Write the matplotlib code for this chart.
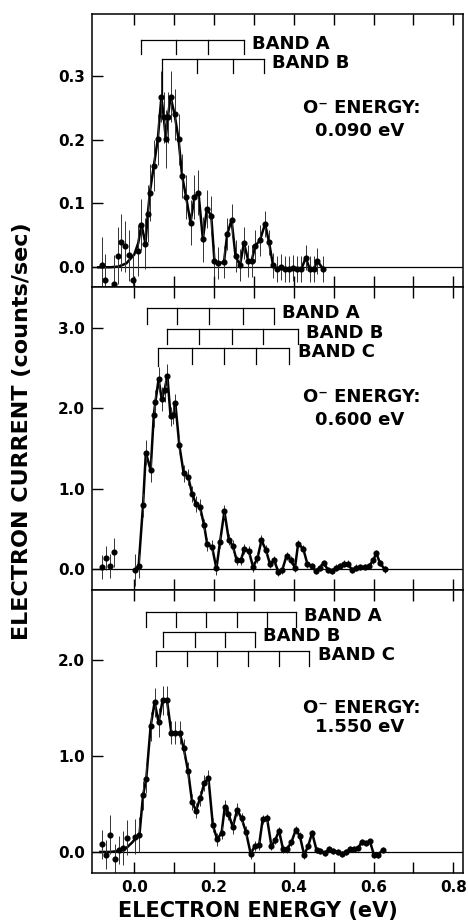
import numpy as np
import matplotlib
matplotlib.use("Agg")
import matplotlib.pyplot as plt

# ---- panel 1: O- energy 0.090 eV ----
top_x = [-0.082, -0.073, -0.052, -0.042, -0.033, -0.023, -0.013, -0.002, 0.009,
         0.018, 0.028, 0.034, 0.039, 0.049, 0.059, 0.068, 0.074, 0.079, 0.084,
         0.091, 0.101, 0.111, 0.120, 0.130, 0.141, 0.151, 0.161, 0.172, 0.182,
         0.193, 0.201, 0.211, 0.225, 0.233, 0.244, 0.254, 0.265, 0.275, 0.286,
         0.294, 0.304, 0.315, 0.328, 0.338, 0.348, 0.357, 0.368, 0.378, 0.388,
         0.399, 0.409, 0.419, 0.430, 0.440, 0.450, 0.459, 0.474]
top_y = [0.003, -0.020, -0.026, 0.018, 0.039, 0.033, 0.019, -0.020, 0.026,
         0.067, 0.037, 0.084, 0.117, 0.159, 0.201, 0.267, 0.235, 0.201, 0.235,
         0.267, 0.240, 0.201, 0.143, 0.110, 0.070, 0.110, 0.117, 0.044, 0.091,
         0.081, 0.010, 0.006, 0.008, 0.052, 0.074, 0.017, 0.003, 0.038, 0.010,
         0.010, 0.034, 0.042, 0.068, 0.039, 0.003, -0.003, 0.000, -0.003, -0.003,
         -0.001, -0.003, -0.003, 0.015, -0.003, -0.003, 0.010, -0.003]
top_err = [0.045, 0.04, 0.045, 0.045, 0.045, 0.04, 0.04, 0.04, 0.04,
           0.04, 0.04, 0.045, 0.045, 0.04, 0.04, 0.04, 0.04, 0.045, 0.04,
           0.04, 0.04, 0.04, 0.035, 0.035, 0.035, 0.035, 0.035, 0.035, 0.03,
           0.03, 0.025, 0.025, 0.025, 0.025, 0.025, 0.025, 0.025, 0.025, 0.025,
           0.025, 0.025, 0.025, 0.02, 0.02, 0.02, 0.02, 0.02, 0.02, 0.02,
           0.02, 0.02, 0.02, 0.02, 0.02, 0.02, 0.02, 0.02]
top_fit_x = [-0.09, -0.06, -0.04, -0.02, 0.0, 0.01, 0.018]
top_fit_y = [0.0, 0.0, 0.001, 0.006, 0.02, 0.038, 0.067]

# ---- panel 2: O- energy 0.600 eV ----
mid_x = [-0.081, -0.071, -0.062, -0.051, 0.001, 0.011, 0.022, 0.029, 0.041,
         0.049, 0.053, 0.061, 0.069, 0.076, 0.083, 0.091, 0.098, 0.103, 0.113,
         0.124, 0.135, 0.145, 0.155, 0.165, 0.175, 0.183, 0.195, 0.206, 0.215,
         0.226, 0.237, 0.247, 0.257, 0.267, 0.276, 0.287, 0.298, 0.309, 0.319,
         0.330, 0.340, 0.351, 0.361, 0.371, 0.382, 0.392, 0.403, 0.411, 0.424,
         0.434, 0.445, 0.455, 0.465, 0.475, 0.486, 0.496, 0.506, 0.516, 0.526,
         0.536, 0.546, 0.557, 0.567, 0.578, 0.589, 0.599, 0.607, 0.616, 0.628]
mid_y = [0.03, 0.14, 0.045, 0.21, -0.01, 0.045, 0.80, 1.45, 1.23,
         1.92, 2.08, 2.36, 2.11, 2.23, 2.40, 1.90, 1.92, 2.06, 1.54,
         1.19, 1.15, 0.94, 0.81, 0.77, 0.55, 0.31, 0.28, 0.01, 0.34,
         0.72, 0.37, 0.29, 0.11, 0.11, 0.25, 0.23, 0.03, 0.14, 0.36,
         0.24, 0.07, 0.11, -0.03, -0.01, 0.17, 0.12, 0.02, 0.32, 0.25,
         0.07, 0.04, -0.02, 0.02, 0.08, -0.01, -0.02, 0.02, 0.04, 0.07,
         0.07, -0.01, 0.02, 0.03, 0.03, 0.04, 0.11, 0.20, 0.08, 0.0]
mid_err = [0.15, 0.15, 0.15, 0.18, 0.2, 0.15, 0.15, 0.15, 0.15,
           0.15, 0.15, 0.15, 0.15, 0.15, 0.15, 0.12, 0.12, 0.12, 0.1,
           0.1, 0.1, 0.1, 0.1, 0.1, 0.08, 0.08, 0.08, 0.08, 0.08,
           0.08, 0.07, 0.07, 0.06, 0.06, 0.06, 0.06, 0.06, 0.06, 0.06,
           0.06, 0.05, 0.05, 0.05, 0.05, 0.05, 0.05, 0.05, 0.05, 0.05,
           0.05, 0.04, 0.04, 0.04, 0.04, 0.04, 0.04, 0.04, 0.04, 0.04,
           0.04, 0.04, 0.04, 0.04, 0.04, 0.04, 0.04, 0.04, 0.04, 0.04]

# ---- panel 3: O- energy 1.550 eV ----
bot_x = [-0.081, -0.070, -0.060, -0.049, -0.039, -0.028, -0.018, 0.003, 0.013,
         0.022, 0.030, 0.041, 0.051, 0.061, 0.071, 0.082, 0.093, 0.103, 0.114,
         0.124, 0.135, 0.145, 0.155, 0.165, 0.176, 0.186, 0.197, 0.208, 0.219,
         0.227, 0.236, 0.247, 0.258, 0.269, 0.280, 0.292, 0.302, 0.313, 0.322,
         0.333, 0.344, 0.353, 0.363, 0.373, 0.383, 0.394, 0.405, 0.415, 0.426,
         0.436, 0.446, 0.457, 0.467, 0.478, 0.489, 0.499, 0.510, 0.520, 0.531,
         0.541, 0.551, 0.561, 0.570, 0.581, 0.591, 0.601, 0.610, 0.624]
bot_y = [0.08, -0.03, 0.18, -0.07, 0.02, 0.04, 0.15, 0.16, 0.18,
         0.59, 0.76, 1.31, 1.56, 1.35, 1.58, 1.58, 1.24, 1.24, 1.24,
         1.08, 0.84, 0.52, 0.43, 0.56, 0.72, 0.77, 0.28, 0.13, 0.20,
         0.47, 0.40, 0.26, 0.44, 0.35, 0.21, -0.02, 0.06, 0.07, 0.34,
         0.35, 0.06, 0.12, 0.22, 0.03, 0.03, 0.10, 0.23, 0.17, -0.03,
         0.06, 0.20, 0.02, 0.01, -0.01, 0.03, 0.01, 0.00, -0.02, 0.00,
         0.03, 0.03, 0.04, 0.10, 0.09, 0.11, -0.03, -0.03, 0.02]
bot_err = [0.15, 0.15, 0.2, 0.15, 0.15, 0.18, 0.18, 0.18, 0.18,
           0.15, 0.15, 0.15, 0.15, 0.15, 0.15, 0.15, 0.12, 0.12, 0.12,
           0.1, 0.1, 0.08, 0.08, 0.08, 0.08, 0.08, 0.07, 0.07, 0.07,
           0.07, 0.07, 0.07, 0.07, 0.06, 0.06, 0.05, 0.05, 0.05, 0.05,
           0.05, 0.04, 0.04, 0.04, 0.04, 0.04, 0.04, 0.04, 0.04, 0.04,
           0.03, 0.03, 0.03, 0.03, 0.03, 0.03, 0.03, 0.03, 0.03, 0.03,
           0.03, 0.03, 0.03, 0.03, 0.03, 0.03, 0.03, 0.03, 0.03]
bot_fit_x = [-0.085, -0.06, -0.04, -0.02, -0.005, 0.003, 0.013]
bot_fit_y = [0.0, 0.0, 0.01, 0.04, 0.10, 0.14, 0.18]

energy_labels = ["0.090 eV", "0.600 eV", "1.550 eV"]

# band ladders: (name, level positions in eV, bracket height)
top_bands = [("BAND A", [0.017, 0.105, 0.185, 0.275], 0.356),
             ("BAND B", [0.069, 0.158, 0.247, 0.325], 0.326)]
mid_bands = [("BAND A", [0.031, 0.106, 0.187, 0.272, 0.350], 3.24),
             ("BAND B", [0.081, 0.163, 0.244, 0.323, 0.411], 2.99),
             ("BAND C", [0.060, 0.144, 0.225, 0.305, 0.389], 2.745)]
bot_bands = [("BAND A", [0.029, 0.105, 0.179, 0.257, 0.332, 0.405], 2.505),
             ("BAND B", [0.073, 0.152, 0.227, 0.303], 2.297),
             ("BAND C", [0.054, 0.131, 0.208, 0.286, 0.363, 0.439], 2.095)]

panels = [
    dict(x=top_x, y=top_y, e=top_err, fx=top_fit_x, fy=top_fit_y, start=9,
         ylim=(-0.031, 0.397), yt=[0.0, 0.1, 0.2, 0.3], bands=top_bands,
         energy=energy_labels[0], ey=(0.250, 0.214), tick=0.021, first_drop=[0, 0.04]),
    dict(x=mid_x, y=mid_y, e=mid_err, fx=[], fy=[], start=4,
         ylim=(-0.257, 3.506), yt=[0.0, 1.0, 2.0, 3.0], bands=mid_bands,
         energy=energy_labels[1], ey=(2.144, 1.855), tick=0.19, first_drop=[0, 0, 0.03]),
    dict(x=bot_x, y=bot_y, e=bot_err, fx=bot_fit_x, fy=bot_fit_y, start=8,
         ylim=(-0.219, 2.73), yt=[0.0, 1.0, 2.0], bands=bot_bands,
         energy=energy_labels[2], ey=(1.497, 1.305), tick=0.16, first_drop=[0, 0, 0]),
]

fig = plt.figure(figsize=(4.68, 9.22), dpi=100)
bounds = [(0.6887, 0.9848), (0.3601, 0.6887), (0.0532, 0.3601)]
left, right = 0.1966, 0.989

for i, (p, (b0, b1)) in enumerate(zip(panels, bounds)):
    ax = fig.add_axes([left, b0, right - left, b1 - b0])
    ax.axhline(0, color="black", lw=0.9)
    s = p["start"]
    ax.plot(p["fx"] + p["x"][s:], p["fy"] + p["y"][s:], color="black", lw=1.8)
    ax.errorbar(p["x"], p["y"], yerr=p["e"], fmt="o", color="black", ms=3.4,
                elinewidth=0.7, capsize=0, ecolor="#333333")
    ax.set_xlim(-0.106, 0.824)
    ax.set_ylim(*p["ylim"])
    ax.set_xticks(np.arange(0.0, 0.81, 0.1))
    ax.set_yticks(p["yt"])
    ax.set_yticklabels([f"{v:.1f}" for v in p["yt"]], fontsize=11, fontweight="bold")
    ax.tick_params(axis="x", direction="in", top=True, length=8, width=1)
    ax.tick_params(axis="y", direction="in", length=8, width=1, pad=5)
    if i < 2:
        ax.set_xticklabels([])
    else:
        ax.set_xticks(np.arange(0.0, 0.81, 0.2), labels=[f"{v:.1f}" for v in np.arange(0.0, 0.81, 0.2)],
                      fontsize=11, fontweight="bold")
        ax.set_xticks(np.arange(0.1, 0.81, 0.2), minor=True)
        ax.tick_params(axis="x", which="both", direction="in", top=True, length=8, width=1, pad=5)
    for sp in ax.spines.values():
        sp.set_linewidth(1.1)

    # band ladders
    h = p["tick"]
    for j, (name, lev, yb) in enumerate(p["bands"]):
        ax.plot([lev[0], lev[-1]], [yb, yb], color="black", lw=0.9)
        for k, xv in enumerate(lev):
            drop = h
            if k == 0:
                drop = h + p["first_drop"][j]
            ax.plot([xv, xv], [yb, yb - drop], color="black", lw=0.9)
        ax.annotate(name, (lev[-1], yb), xytext=(6, -3), textcoords="offset points",
                    fontsize=13, fontweight="bold", ha="left", va="center")
    ax.text(0.57, p["ey"][0], "O\u207b ENERGY:", fontsize=13, fontweight="bold",
            ha="center", va="center")
    ax.text(0.565, p["ey"][1], p["energy"], fontsize=13, fontweight="bold",
            ha="center", va="center")

fig.text(0.046, 0.532, "ELECTRON CURRENT (counts/sec)", rotation=90, fontsize=16,
         fontweight="bold", ha="center", va="center")
fig.text(0.551, 0.0114, "ELECTRON ENERGY (eV)", fontsize=15, fontweight="bold",
         ha="center", va="center")

fig.savefig("out.png", dpi=100)
